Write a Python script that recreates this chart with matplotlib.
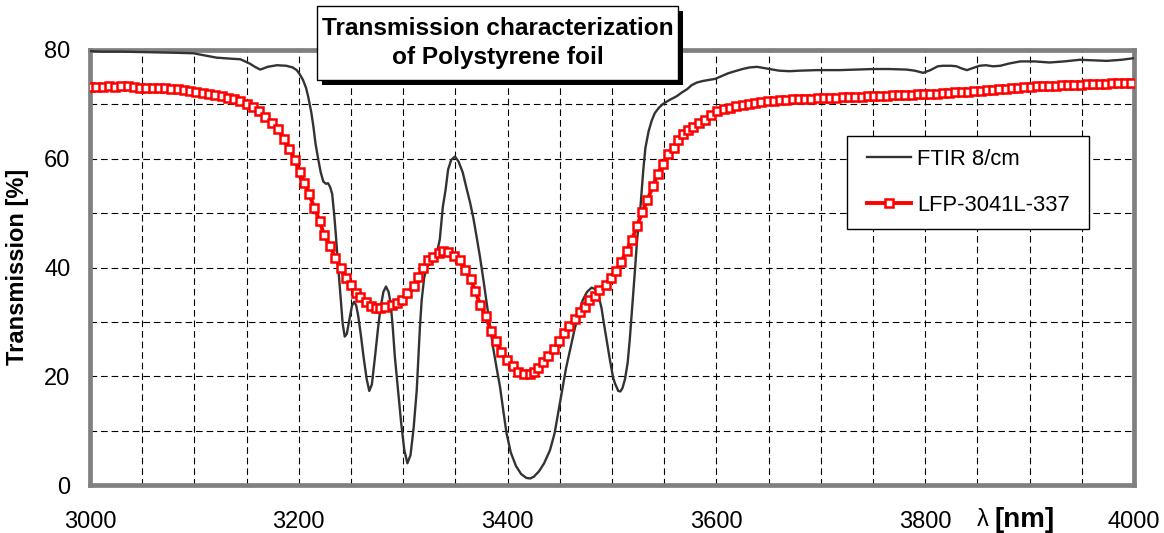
import matplotlib
matplotlib.use("Agg")
import matplotlib.pyplot as plt
from matplotlib.patches import Rectangle
from matplotlib.ticker import MultipleLocator

plt.rcParams['font.family'] = ['Liberation Sans', 'DejaVu Sans']

# ---------------- data ----------------
ftir_x = [3000, 3010, 3030, 3057, 3080, 3099, 3110, 3121, 3135, 3144, 3153, 3158, 3163, 3166, 3170,
          3179, 3188, 3194, 3198, 3201, 3204, 3207, 3209, 3212, 3214, 3216, 3218.7, 3221, 3223.5, 3226,
          3228, 3230, 3232, 3234, 3235.5, 3237, 3239.5, 3242, 3244, 3246, 3249, 3251, 3253, 3255, 3257,
          3259.5, 3262, 3265, 3267.5, 3270, 3273, 3276, 3278, 3281, 3283.5, 3286, 3288, 3290, 3292,
          3295, 3298, 3301, 3304, 3307, 3310, 3313, 3316, 3317.7, 3320, 3322.5, 3326, 3329, 3332, 3335,
          3338, 3340.6, 3343, 3346, 3349.6, 3353, 3357, 3361, 3364, 3367, 3370, 3373.5, 3377, 3380,
          3383, 3386, 3389.5, 3392.7, 3396, 3399, 3403, 3408, 3413, 3418, 3421.5, 3425, 3430, 3435,
          3440.6, 3445, 3450, 3456, 3460, 3464, 3468, 3472, 3476, 3480.5, 3484, 3487, 3490, 3492, 3495,
          3498, 3501, 3503, 3506, 3508, 3510, 3512.5, 3515, 3517, 3519.5, 3522, 3524, 3527, 3530, 3532,
          3535, 3538, 3541, 3545, 3549, 3555, 3562, 3567, 3572, 3576, 3581, 3587, 3593, 3599, 3605,
          3611, 3616, 3625, 3632, 3639, 3645, 3651, 3660, 3670, 3680, 3696, 3718, 3735, 3750, 3765,
          3782, 3790, 3798, 3805, 3812, 3817, 3825, 3830, 3835, 3840, 3846, 3852, 3858, 3865, 3872,
          3880, 3891, 3905, 3919, 3933, 3948, 3960, 3974, 3988, 4000]
ftir_y = [79.8, 79.7, 79.7, 79.6, 79.5, 79.4, 79.0, 78.6, 78.4, 78.3, 77.5, 76.9, 76.4, 76.6, 76.9,
          77.2, 77.1, 76.8, 76.3, 75.5, 74.5, 73.0, 71.4, 68.5, 65.9, 62.8, 59.8, 57.5, 55.8, 55.4,
          55.5, 54.8, 53.5, 49.5, 46.0, 42.0, 35.9, 29.7, 27.3, 27.8, 31.0, 33.0, 33.7, 33.0, 31.0,
          27.5, 23.6, 19.5, 17.3, 18.5, 23.6, 29.0, 32.2, 35.5, 36.5, 35.5, 33.4, 29.0, 23.6,
          17.5, 11.5, 6.5, 4.0, 5.5, 10.5, 17.5, 29.0, 34.0, 38.0, 40.1, 40.8, 41.1, 42.5, 45.1,
          51.2, 54.3, 58.0, 59.8, 60.4, 59.5, 57.5, 54.3, 52.0, 49.3, 46.0, 42.0, 37.5, 33.4,
          29.5, 25.4, 21.5, 18.1, 13.5, 9.5, 6.0, 3.5, 2.0, 1.3, 1.2, 1.5, 2.5, 4.0,
          6.4, 9.5, 15.0, 21.5, 25.0, 28.5, 31.5, 34.0, 35.5, 36.3, 36.0, 35.0, 32.5, 30.0, 26.5,
          23.0, 19.8, 18.6, 17.3, 17.2, 17.8, 19.5, 22.5, 26.7, 33.0, 39.5, 45.0, 50.5, 58.0, 62.0,
          65.0, 67.0, 68.4, 69.4, 70.1, 70.8, 71.5, 72.2, 72.8, 73.5, 74.0, 74.3, 74.5, 74.7, 75.2,
          75.7, 76.0, 76.5, 76.8, 76.9, 76.7, 76.5, 76.2, 76.1, 76.2, 76.3, 76.3, 76.4, 76.5, 76.5,
          76.4, 76.2, 75.8, 76.3, 77.0, 77.1, 77.1, 77.0, 76.6, 76.3, 76.7, 77.1, 77.2, 77.0, 77.1,
          77.5, 77.9, 77.9, 77.7, 77.9, 78.2, 78.1, 78.0, 78.2, 78.5]

lfp_x = [3000, 3006, 3012, 3018, 3024, 3030, 3036, 3042, 3048, 3054, 3060, 3066, 3072, 3078, 3084,
         3090, 3096, 3102, 3108, 3114, 3120, 3126, 3132, 3138, 3144, 3150, 3156, 3162, 3168, 3174,
         3180, 3186, 3191, 3196, 3201, 3205,
         3210, 3215, 3220, 3224, 3230, 3235, 3240, 3245, 3250, 3255, 3259, 3264, 3269, 3274, 3278,
         3283, 3289, 3294, 3299, 3304, 3310, 3314, 3319, 3324, 3329, 3334, 3338, 3343, 3349, 3354,
         3359, 3365, 3369, 3374, 3379, 3384, 3389, 3394, 3399, 3405, 3410,
         3416, 3421, 3425, 3429, 3434, 3439, 3444, 3449, 3454, 3459, 3465, 3469, 3474, 3478, 3484,
         3488, 3494, 3499, 3504, 3509, 3514, 3519, 3524, 3529, 3534, 3539, 3544, 3549, 3554, 3559,
         3563, 3568, 3573, 3578, 3583,
         3589, 3595, 3601, 3607, 3613, 3619, 3625, 3631, 3637, 3643, 3649, 3655, 3661, 3667, 3673,
         3679, 3685, 3691, 3697, 3703, 3709, 3715, 3721, 3727, 3733, 3739, 3745, 3751, 3757, 3763,
         3769, 3775, 3781, 3787, 3793, 3799, 3805, 3811, 3817, 3823, 3829, 3835, 3841, 3847, 3853,
         3859, 3865, 3871, 3877, 3883, 3889, 3895, 3901, 3907, 3913, 3919, 3925, 3931, 3937, 3943,
         3949, 3955, 3961, 3967, 3973, 3979, 3985, 3991, 3997]
lfp_y = [73.2, 73.2, 73.2, 73.3, 73.2, 73.3, 73.3, 73.2, 73.1, 73.1, 73.0, 73.1, 73.0, 72.9, 72.8,
         72.7, 72.5, 72.3, 72.1, 71.9, 71.7, 71.5, 71.2, 70.9, 70.6, 70.1, 69.5, 68.8, 67.6, 66.6,
         65.4, 63.7, 61.8, 59.8, 57.5, 55.6,
         53.5, 50.9, 48.6, 46.0, 44.0, 41.7, 39.9, 38.0, 36.8, 35.4, 34.5, 33.7, 32.9, 32.6, 32.5,
         32.7, 33.1, 33.4, 34.1, 35.3, 36.6, 38.2, 39.9, 41.4, 41.9, 42.7, 43.0, 42.9, 42.2, 41.3,
         39.5, 37.8, 35.6, 33.1, 31.0, 28.4, 26.4, 24.5, 23.0, 21.8, 20.8,
         20.4, 20.4, 20.8, 21.6, 22.7, 23.7, 25.0, 26.5, 27.9, 29.2, 30.5, 31.9, 32.8, 34.0, 34.8,
         35.9, 36.8, 38.0, 39.4, 41.1, 43.1, 45.1, 47.6, 50.2, 52.4, 54.9, 57.2, 59.0, 60.9, 61.9,
         63.4, 64.5, 65.3, 65.9, 66.5,
         67.2, 68.1, 68.7, 69.1, 69.4, 69.7, 69.9, 70.1, 70.3, 70.5, 70.6, 70.7, 70.8, 70.8, 70.9,
         70.9, 71.0, 71.0, 71.1, 71.1, 71.2, 71.2, 71.3, 71.3, 71.4, 71.4, 71.5, 71.5, 71.6, 71.6,
         71.7, 71.7, 71.8, 71.8, 71.9, 71.9, 72.0, 72.0, 72.1, 72.1, 72.2, 72.2, 72.3, 72.4, 72.5,
         72.6, 72.7, 72.8, 72.9, 73.0, 73.1, 73.2, 73.2, 73.3, 73.3, 73.4, 73.4, 73.5, 73.5, 73.6,
         73.6, 73.7, 73.7, 73.8, 73.8, 73.9, 73.9, 74.0, 74.0]

x_ticks = [3000, 3200, 3400, 3600, 3800, 4000]
y_ticks = [0, 20, 40, 60, 80]
series_names = ["FTIR 8/cm", "LFP-3041L-337"]
title_lines = "Transmission characterization\nof Polystyrene foil"
y_label = "Transmission [%]"

# ---------------- figure ----------------
W, H = 1164, 533
fig = plt.figure(figsize=(W / 100, H / 100), dpi=100)
ax = fig.add_axes([90 / W, 1 - 485 / H, (1134 - 90) / W, (485 - 50) / H])

ax.set_xlim(3000, 4000)
ax.set_ylim(0, 80)
ax.set_xticks(x_ticks)
ax.set_yticks(y_ticks)
ax.xaxis.set_minor_locator(MultipleLocator(50))
ax.yaxis.set_minor_locator(MultipleLocator(10))
ax.tick_params(which='both', length=0)
ax.tick_params(axis='x', labelsize=17, pad=19)
ax.tick_params(axis='y', labelsize=17, pad=14)

grid_kw = dict(color='black', linewidth=0.8, linestyle=(0, (6, 3.5)))
ax.grid(True, which='both', **grid_kw)
ax.set_axisbelow(True)

for s in ax.spines.values():
    s.set_color('#808080')
    s.set_linewidth(3.4)

ax.plot(ftir_x, ftir_y, color='#333333', linewidth=1.7, label=series_names[0], zorder=3)
ax.plot(lfp_x, lfp_y, color='#ff0000', linewidth=2.8, marker='s', markersize=5.6,
        markerfacecolor='white', markeredgecolor='#ff0000', markeredgewidth=1.8,
        label=series_names[1], zorder=4)

# y-axis label
fig.text(18 / W, 1 - 267 / H, y_label, fontsize=17, fontweight='bold', rotation=90,
         ha='center', va='center')

# x-axis label placed between the 3800 and 4000 ticks
fig.text(977 / W, 1 - 520 / H, "λ", fontsize=17, ha='left', va='center')
fig.text(994 / W, 1 - 520 / H, "[nm]", fontsize=20, fontweight='bold', ha='left', va='center')

# legend frame drawn explicitly, entries placed inside it
fig.add_artist(Rectangle((847 / W, 1 - 229 / H), (1089 - 847) / W, (229 - 136) / H,
                         transform=fig.transFigure, facecolor='white', edgecolor='black',
                         linewidth=1.0, zorder=5))
leg = fig.legend(handles=ax.get_lines(), labels=series_names, loc='upper left',
                 bbox_to_anchor=(867 / W, 1 - 149 / H), bbox_transform=fig.transFigure,
                 borderaxespad=0, borderpad=0, fontsize=15.8, frameon=False,
                 handlelength=2.0, handletextpad=0.3, labelspacing=1.12, numpoints=1)
leg.set_zorder(6)

# title box with drop shadow
bx0, by0, bx1, by1 = 317, 6, 678, 80
sh = 5
fig.add_artist(Rectangle(((bx0 + sh) / W, 1 - (by1 + sh) / H), (bx1 - bx0) / W, (by1 - by0) / H,
                         transform=fig.transFigure, facecolor='black', edgecolor='none', zorder=5))
fig.add_artist(Rectangle((bx0 / W, 1 - by1 / H), (bx1 - bx0) / W, (by1 - by0) / H,
                         transform=fig.transFigure, facecolor='white', edgecolor='black',
                         linewidth=1.0, zorder=6))
fig.text((bx0 + bx1) / 2 / W, 1 - (by0 + by1) / 2 / H, title_lines, fontsize=17.6,
         fontweight='bold', ha='center', va='center', linespacing=1.3, zorder=7)

fig.savefig("out.png", dpi=100)
